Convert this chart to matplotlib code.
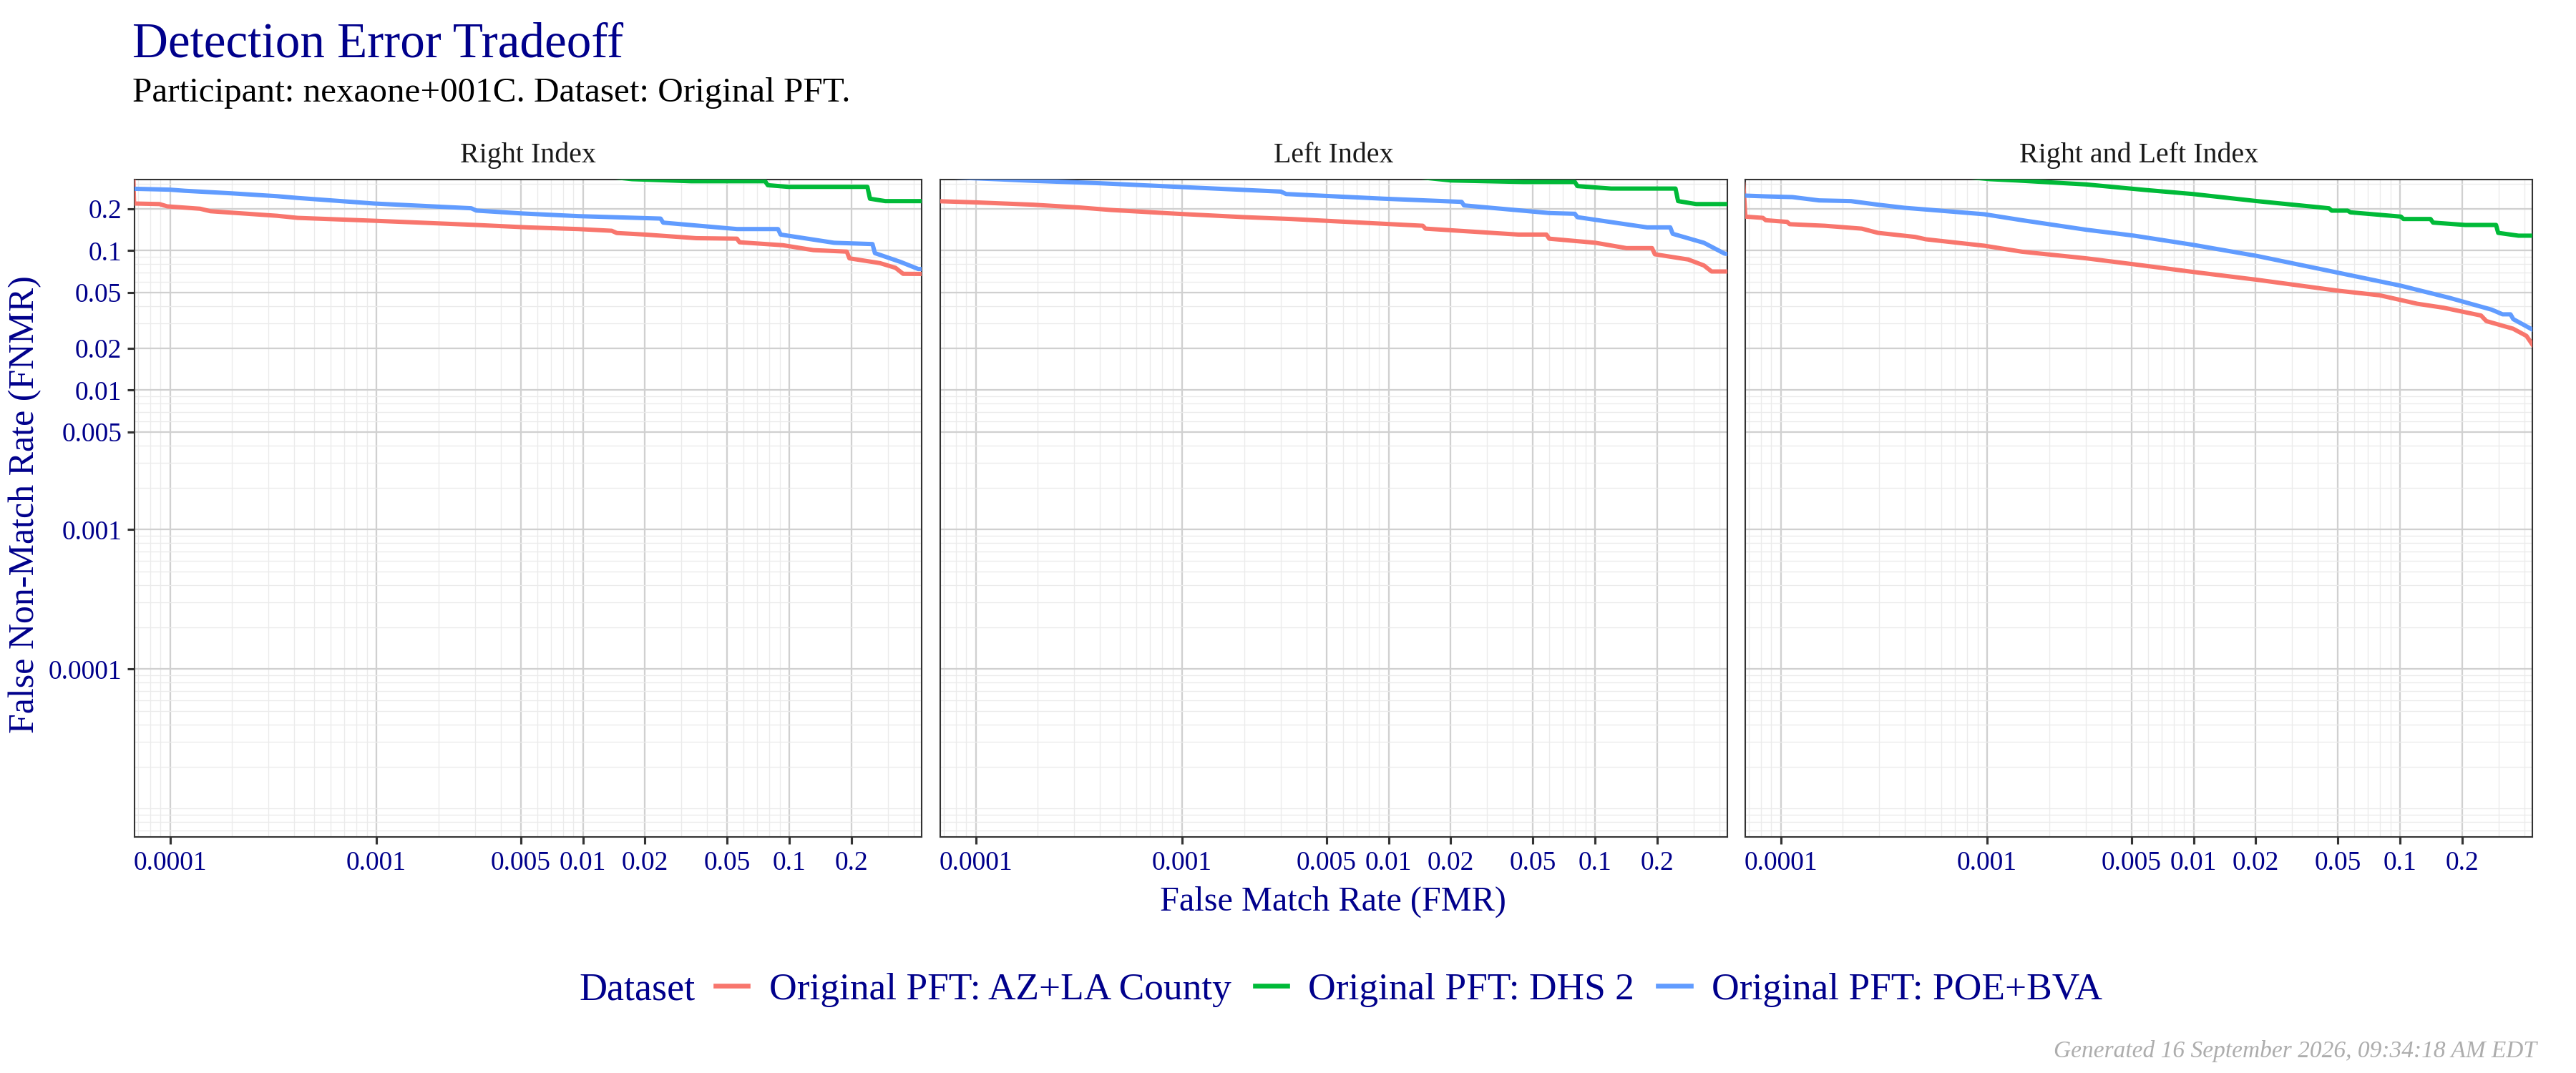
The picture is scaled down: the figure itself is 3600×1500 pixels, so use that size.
import matplotlib
matplotlib.use("Agg")
import matplotlib.pyplot as plt
from matplotlib.lines import Line2D
from matplotlib.ticker import FixedLocator, NullFormatter

plt.rcParams['font.family'] = ['Liberation Serif', 'DejaVu Serif']

# ---- data (FMR, FNMR) ----
panels = ["Right Index", "Left Index", "Right and Left Index"]
datasets = ["Original PFT: AZ+LA County", "Original PFT: DHS 2", "Original PFT: POE+BVA"]
colors = ["#F8766D", "#00BA38", "#619CFF"]

# Right Index
right_az_fmr = [6.6e-5, 6.7e-5, 8.9e-5, 9.7e-5, 1.40e-4, 1.57e-4, 3.30e-4, 4.15e-4, 9.75e-4, 1.63e-3,
                3.05e-3, 5.40e-3, 9.5e-3, 1.38e-2, 1.46e-2, 2.0e-2, 3.54e-2, 5.58e-2, 5.74e-2, 9.33e-2,
                0.131, 0.190, 0.1955, 0.275, 0.327, 0.356, 0.6]
right_az_fnmr = [0.5, 0.218, 0.216, 0.208, 0.200, 0.192, 0.178, 0.172, 0.164, 0.159,
                 0.153, 0.147, 0.143, 0.139, 0.134, 0.1306, 0.123, 0.122, 0.115, 0.1095,
                 0.101, 0.0985, 0.0882, 0.0815, 0.0754, 0.0683, 0.068]
right_dhs_fmr = [1e-4, 0.012, 0.0173, 0.0334, 0.0764, 0.0787, 0.0988, 0.239, 0.246, 0.292, 0.6]
right_dhs_fnmr = [0.45, 0.345, 0.326, 0.315, 0.315, 0.295, 0.287, 0.287, 0.236, 0.2268, 0.2268]
right_poe_fmr = [5e-5, 1.0e-4, 1.18e-4, 1.98e-4, 3.30e-4, 4.15e-4, 9.75e-4, 2.88e-3, 3.05e-3, 5.09e-3,
                 9.5e-3, 2.38e-2, 2.45e-2, 5.58e-2, 8.82e-2, 9.08e-2, 0.165, 0.253, 0.260, 0.346,
                 0.422, 0.6]
right_poe_fnmr = [0.281, 0.274, 0.269, 0.258, 0.246, 0.239, 0.218, 0.2016, 0.194, 0.185,
                  0.177, 0.170, 0.159, 0.143, 0.143, 0.1306, 0.114, 0.1116, 0.0961, 0.0831,
                  0.0739, 0.0739]

# Left Index
left_az_fmr = [5e-5, 1.01e-4, 1.90e-4, 3.20e-4, 4.51e-4, 9.53e-4, 2.01e-3, 3.38e-3, 9.5e-3, 1.465e-2,
               1.51e-2, 4.25e-2, 5.82e-2, 6.0e-2, 0.1006, 0.142, 0.189, 0.195, 0.283, 0.337,
               0.367, 0.6]
left_az_fnmr = [0.2295, 0.222, 0.2138, 0.204, 0.196, 0.184, 0.174, 0.1688, 0.156, 0.151,
                0.144, 0.1306, 0.1306, 0.122, 0.114, 0.1044, 0.1044, 0.0943, 0.0865, 0.0784,
                0.071, 0.071]
left_dhs_fmr = [1e-4, 0.012, 0.0201, 0.045, 0.0799, 0.0822, 0.1196, 0.2455, 0.2527, 0.309, 0.6]
left_dhs_fnmr = [0.45, 0.345, 0.319, 0.311, 0.311, 0.2906, 0.279, 0.279, 0.2268, 0.216, 0.216]
left_poe_fmr = [5e-5, 1.27e-4, 1.90e-4, 4.02e-4, 9.53e-4, 3.01e-3, 3.19e-3, 9.5e-3, 2.26e-2, 2.32e-2,
                6.0e-2, 7.99e-2, 8.22e-2, 0.179, 0.2315, 0.238, 0.337, 0.424, 0.6]
left_poe_fnmr = [0.345, 0.3256, 0.317, 0.3046, 0.287, 0.2654, 0.255, 0.236, 0.224, 0.2113,
                 0.1863, 0.184, 0.174, 0.147, 0.147, 0.1322, 0.114, 0.0954, 0.088]

# Right and Left Index
both_az_fmr = [6.6e-5, 6.75e-5, 8.2e-5, 8.46e-5, 1.074e-4, 1.106e-4, 1.63e-4, 2.47e-4, 2.96e-4, 4.48e-4,
               5.05e-4, 9.7e-4, 1.476e-3, 3.02e-3, 5.15e-3, 9.92e-3, 2.03e-2, 4.95e-2, 7.98e-2, 0.121,
               0.163, 0.247, 0.262, 0.353, 0.410, 0.44, 0.6]
both_az_fnmr = [0.30, 0.1756, 0.172, 0.1655, 0.161, 0.155, 0.151, 0.144, 0.1343, 0.1256,
                0.1208, 0.1086, 0.0984, 0.0882, 0.0799, 0.0705, 0.0619, 0.0518, 0.0479, 0.0417,
                0.039, 0.0343, 0.0313, 0.0276, 0.0245, 0.021, 0.014]
both_dhs_fmr = [1e-4, 1.03e-3, 1.39e-3, 3.02e-3, 5.8e-3, 9.92e-3, 2.03e-2, 4.53e-2, 4.67e-2, 5.58e-2,
                5.75e-2, 0.101, 0.104, 0.1406, 0.1446, 0.207, 0.292, 0.299, 0.375, 0.6]
both_dhs_fnmr = [0.45, 0.326, 0.319, 0.2987, 0.2729, 0.255, 0.2268, 0.2015, 0.1938, 0.1938,
                 0.1885, 0.1756, 0.1688, 0.1688, 0.1591, 0.153, 0.153, 0.1343, 0.1282, 0.1282]
both_poe_fmr = [5e-5, 8.46e-5, 1.14e-4, 1.535e-4, 2.19e-4, 2.96e-4, 3.98e-4, 5.05e-4, 9.7e-4, 1.476e-3,
                3.02e-3, 5.15e-3, 9.92e-3, 2.03e-2, 4.4e-2, 0.101, 0.173, 0.278, 0.314, 0.343,
                0.354, 0.44, 0.6]
both_poe_fnmr = [0.2522, 0.2453, 0.2424, 0.2295, 0.2268, 0.2138, 0.2031, 0.1975, 0.1826, 0.1655,
                 0.1414, 0.1282, 0.1103, 0.0917, 0.0724, 0.0561, 0.046, 0.0378, 0.035, 0.035,
                 0.0323, 0.0271, 0.022]

curves = [
    [(right_az_fmr, right_az_fnmr), (right_dhs_fmr, right_dhs_fnmr), (right_poe_fmr, right_poe_fnmr)],
    [(left_az_fmr, left_az_fnmr), (left_dhs_fmr, left_dhs_fnmr), (left_poe_fmr, left_poe_fnmr)],
    [(both_az_fmr, both_az_fnmr), (both_dhs_fmr, both_dhs_fnmr), (both_poe_fmr, both_poe_fnmr)],
]

tick_vals = [0.0001, 0.001, 0.005, 0.01, 0.02, 0.05, 0.1, 0.2]
tick_labels = ["0.0001", "0.001", "0.005", "0.01", "0.02", "0.05", "0.1", "0.2"]
minor_vals = [k * 10.0 ** e for e in range(-6, 1) for k in range(1, 10)
              if not any(abs(k * 10.0 ** e - t) < 1e-12 for t in tick_vals)]

xlim = (6.735e-5, 0.4377)
ylim = (6.27e-6, 0.3238)

navy = "#00008B"
W, H = 3600, 1500
fig = plt.figure(figsize=(12, 5), dpi=300)

# panel boxes in pixels
panel_left = [188, 1314, 2439]
panel_w = 1100
panel_top, panel_bot = 251, 1170

for i, name in enumerate(panels):
    ax = fig.add_axes([panel_left[i] / W, 1 - panel_bot / H, panel_w / W, (panel_bot - panel_top) / H])
    ax.set_xscale("log")
    ax.set_yscale("log")
    for j, (fx, fy) in enumerate(curves[i]):
        ax.plot(fx, fy, color=colors[j], lw=1.45, solid_joinstyle="round", zorder=3)
    ax.set_xlim(*xlim)
    ax.set_ylim(*ylim)
    for axis in (ax.xaxis, ax.yaxis):
        axis.set_major_locator(FixedLocator(tick_vals))
        axis.set_minor_locator(FixedLocator(minor_vals))
        axis.set_minor_formatter(NullFormatter())
    ax.set_xticklabels(tick_labels)
    ax.set_yticklabels(tick_labels)
    ax.grid(which="minor", color="#EBEBEB", lw=0.32, zorder=0)
    ax.grid(which="major", color="#D0D0D0", lw=0.55, zorder=1)
    ax.set_axisbelow(True)
    ax.tick_params(which="minor", length=0)
    ax.tick_params(which="major", length=2.4, width=0.75, color="#333333",
                   labelsize=9, labelcolor=navy)
    ax.tick_params(axis="x", pad=2.2)
    ax.tick_params(axis="y", pad=1.8)
    if i > 0:
        ax.tick_params(axis="y", left=False, labelleft=False)
    for s in ax.spines.values():
        s.set_color("#333333")
        s.set_linewidth(0.5)
    # facet strip label
    fig.text((panel_left[i] + panel_w / 2) / W, 1 - 227 / H, name, ha="center", va="baseline",
             fontsize=9.6, color="#1A1A1A")

fig.text(185 / W, 1 - 79 / H, "Detection Error Tradeoff", fontsize=16.6, color=navy, va="baseline")
fig.text(185 / W, 1 - 142 / H, "Participant: nexaone+001C. Dataset: Original PFT.", fontsize=11.8,
         color="black", va="baseline")
fig.text(1863 / W, 1 - 1273 / H, "False Match Rate (FMR)", fontsize=11.6, color=navy,
         ha="center", va="baseline")
fig.text(35 / W, 1 - 705 / H, "False Non-Match Rate (FNMR)", fontsize=12, color=navy,
         ha="center", va="center", rotation=90)

fig.text(809 / W, 1 - 1397 / H, "Dataset", fontsize=13, color=navy, va="baseline")
handles = [Line2D([], [], color=c, lw=1.6) for c in colors]
fig.legend(handles, datasets, loc="center left", bbox_to_anchor=(1000 / W, 1 - 1384 / H),
           ncol=3, frameon=False, fontsize=12.8, labelcolor=navy, borderpad=0, borderaxespad=0,
           handlelength=0.85, handletextpad=0.55, columnspacing=0.62)

fig.text(3545 / W, 1 - 1478 / H, "Generated 16 September 2026, 09:34:18 AM EDT", fontsize=8.0,
         color="#ADADAD", style="italic", ha="right", va="baseline")

fig.savefig("out.png", dpi=300)
